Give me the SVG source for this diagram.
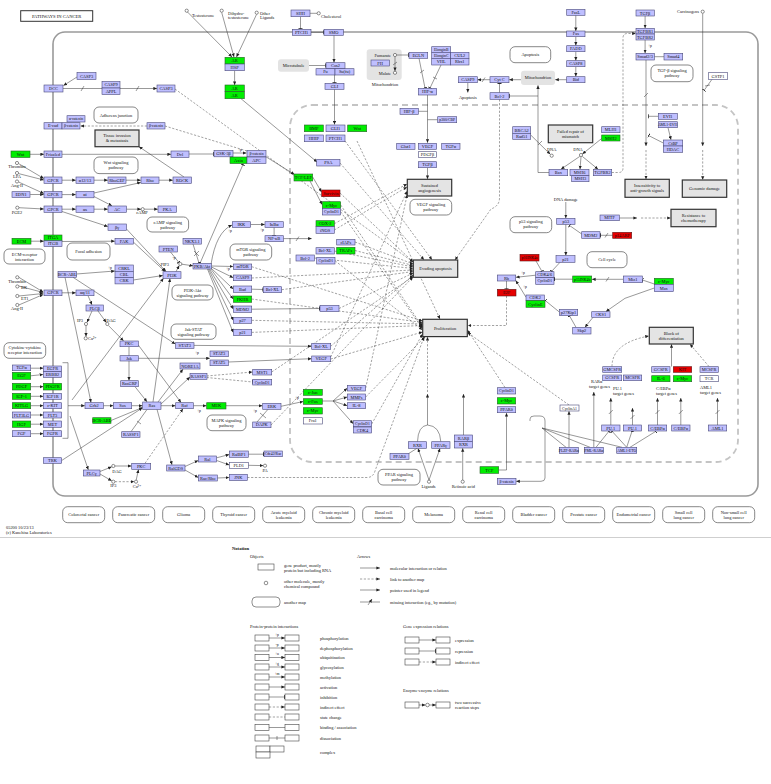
<svg xmlns="http://www.w3.org/2000/svg" width="771" height="784" viewBox="0 0 771 784">
<style>
text{font-family:"Liberation Serif","DejaVu Serif",serif;font-size:4.4px;fill:#111;text-anchor:middle}
.s{text-anchor:start}.en{text-anchor:end}.sm{font-size:3.8px}.lg{font-size:4.6px}
.g{fill:#bfbfff;stroke:#4a4a7a;stroke-width:.6}
.G{fill:#00ee00;stroke:#2a602a;stroke-width:.6}
.R{fill:#e60000;stroke:#601818;stroke-width:.6}
.W{fill:#fff;stroke:#4a4a7a;stroke-width:.6}
.m{fill:#fff;stroke:#555;stroke-width:.7}
.b{fill:#e4e4e4;stroke:#333;stroke-width:1.2}
.gy{fill:#e3e3e3;stroke:none}
.e{fill:none;stroke:#333;stroke-width:.5}
.d{fill:none;stroke:#444;stroke-width:.5;stroke-dasharray:2.2 1.6}
.c{fill:#fff;stroke:#333;stroke-width:.55}
.A{marker-end:url(#a)}.T{marker-end:url(#t)}
.lr{fill:#fff;stroke:#444;stroke-width:.6}
</style>
<defs>
<marker id="a" viewBox="0 0 6 6" refX="6" refY="3" markerWidth="3.6" markerHeight="3.6" markerUnits="userSpaceOnUse" orient="auto"><path d="M0,0.3L6,3L0,5.7z" fill="#222"/></marker>
<marker id="t" viewBox="0 0 2 8" refX="1.5" refY="4" markerWidth="1" markerHeight="4.5" markerUnits="userSpaceOnUse" orient="auto"><path d="M1,0V8" stroke="#222" stroke-width="2"/></marker>
</defs>
<rect width="771" height="784" fill="#fff"/>

<g id="containers">
<rect x="53" y="32" width="705" height="464" rx="12" fill="none" stroke="#9a9a9a" stroke-width="1.6"/>
<rect x="290" y="105" width="448" height="357" rx="22" fill="none" stroke="#c4c4c4" stroke-width="1.8" stroke-dasharray="6 4"/>
<rect x="20.7" y="10.7" width="72" height="10.6" fill="#fff" stroke="#333" stroke-width="1"/>
<text x="56.7" y="17.8" class="lg">PATHWAYS IN CANCER</text>
<rect class="gy" x="278" y="59.3" width="31" height="12.4" rx="3"/><text x="293.5" y="67">Microtubule</text>
<rect class="gy" x="366.7" y="49.3" width="35" height="30.7" rx="3"/><text x="385" y="85.8">Mitochondrion</text>
<rect class="gy" x="521" y="70.7" width="34" height="14.3" rx="3"/><text x="538" y="79.4">Mitochondrion</text>
</g>

<g id="connectors">
<path class="e A" d="M77,77L63.5,85.5"/>
<path class="e" d="M63,88.5L102,88.5M81,91L84,86"/>
<path class="e A" d="M120,88.5L157,88.5"/><path class="e" d="M136,91L139,86"/>
<path class="d" d="M247,151L165,126"/>
<path class="d A" d="M147,126L80.5,126"/>
<path class="e A" d="M184,177L139,146.7"/>
<path class="d A" d="M175,89L413,262"/>
<path class="e A" d="M30,154.3L44,154.3"/>
<path class="e A" d="M62,154.3L171,154.3"/>
<path class="e T" d="M189,154L213.5,154"/>
<path class="e A" d="M233,153L246.5,153"/>
<path class="e A" d="M266,156.8L294.5,174.5"/>
<path class="e A" d="M312.7,177L321.5,192"/>
<path class="e A" d="M310,181L322,204.5"/>
<path class="e A" d="M187.5,12L232,57"/>
<path class="e A" d="M221.7,12.5L234,57"/>
<path class="e A" d="M256.5,14.5L236.5,57"/>
<path class="e A" d="M234.6,70.7L234.6,85"/>
<path class="e A" d="M241,98.7L317,162"/>
<path class="e T" d="M300.5,16.7L300.5,29"/>
<path class="e" d="M310,13.3L317,13.3"/>
<path class="e T" d="M311,32.3L323.5,32.3"/>
<path class="e A" d="M334,35.3L334,62.5"/>
<path class="e T" d="M309,65.5L325.5,65.5"/>
<path class="e T" d="M334.5,75L334.5,83"/>
<path class="e A" d="M334.5,89.3L334.5,124.5"/>
<path class="e T" d="M396.8,55L408.5,55"/>
<path class="e A" d="M395,56.8L395,71"/><path class="e" d="M393,65L397,62"/>
<path class="e T" d="M419,58.3L425,88"/><path class="e" d="M420,73L424,70"/>
<path class="e T" d="M441,65L430,88"/><path class="e" d="M433,77L437,79"/>
<path class="e A" d="M427.5,95L427.5,142.8"/>
<path class="e" d="M418.3,111.3L427.5,111.3M437.7,119.7L427.5,119.7"/>
<path class="e A" d="M427.5,167.7L427.5,179"/>
<path class="e A" d="M575.8,15.3L575.8,31"/>
<path class="e A" d="M575.8,36.7L575.8,45.5"/>
<path class="e A" d="M575.8,51.7L575.8,60.5"/>
<path class="e A" d="M575.8,66.7L575.8,76.5"/>
<path class="e A" d="M566.7,79.7L555.2,79.7"/>
<path class="e A" d="M521,79.7L509.2,79.7"/>
<path class="e A" d="M490,79.7L477.5,79.7"/><path class="e" d="M482,82L485,77.5"/>
<path class="e A" d="M467.8,82.7L467.8,92.5"/>
<path class="e T" d="M499.5,92.7L499.5,83.3"/>
<path class="e A" d="M549,172.5L538,172.5L538,85.3"/>
<path class="e T" d="M538,96L509.5,96"/>
<path class="d A" d="M499.5,99.3L499.5,198Q499.5,206 491,209L455,260"/>
<path class="e A" d="M530.7,135L550.3,154.3"/><path class="e" d="M538,145L542,141"/>
<path class="e A" d="M601.7,138.5L582.4,154"/>
<path class="e A" d="M579.8,156.4L561,169.2"/>
<path class="e A" d="M581,156.8L580,169.2"/>
<path class="e A" d="M582.3,156.4L598,169.2"/>
<path class="d A" d="M611.7,172.5L618.5,172.5Q623,172.5 623,168L623,38Q623,33.5 627.5,33.5L635.8,33.5"/>
<path class="e A" d="M645.1,16L645.1,28.2"/>
<path class="e A" d="M645.1,40L645.1,53.2"/>
<path class="e" d="M654.3,56.7L664,56.7"/>
<path class="e A" d="M646,60L646,146"/><path class="e" d="M644,97L648,93"/>
<path class="d A" d="M646,150L646,179.2"/>
<path class="e T" d="M658.3,116.3L648.5,116.3"/>
<path class="e T" d="M663.3,143L648.5,135.5"/>
<path class="e A" d="M668,127.7L671,139.8"/>
<path class="e A" d="M702.7,13.5L702.7,146"/>
<path class="d A" d="M702.7,150L702.7,179.8"/>
<path class="e T" d="M712,79.3L704,90.5"/><path class="e" d="M705,86L710,85"/>
<path class="e A" d="M619.3,218L637,218"/>
<path class="d A" d="M641,218L670.8,218"/>
<path class="e T" d="M612.7,235.3L600.2,235.3"/><path class="e" d="M605,237.5L608,233"/>
<path class="e T" d="M581.7,234L569.5,225.5"/>
<path class="e A" d="M565.8,202L565.8,218.2"/>
<path class="e A" d="M565.8,224.3L565.8,255.5"/>
<path class="e T" d="M560,262.3L551.5,271.5"/>
<path class="e T" d="M536,261L542,271.5"/>
<path class="e A" d="M535.7,275.2L516,277.3"/>
<path class="e A" d="M526,297.2L515.8,280.5"/>
<path class="e T" d="M506.5,281L506.5,289.2"/>
<path class="d A" d="M506.5,296L506.5,325.5L467.8,325.5"/>
<path class="e T" d="M572.7,279.2L554.2,279.2"/>
<path class="e A" d="M623.3,279.3L592,279.3"/><path class="e" d="M606,281.5L609,277"/>
<path class="e T" d="M654.3,284L642.5,280"/>
<path class="e A" d="M654.3,288L625,298.3L606,311.5"/>
<path class="e A" d="M593,317.3L585,327.2"/>
<path class="e T" d="M576,327.3L569.5,315.8"/>
<path class="e T" d="M559.3,312L545.2,300.5"/>
<path class="e A" d="M176,271.7L179.2,265.6"/>
<path class="e A" d="M181.8,264.2L193,265.8"/>
<path class="e T" d="M170.5,252L178.8,262.3"/>
<path class="e T" d="M193,244.1L199,263"/><path class="e" d="M194,251L199,256M199,251L194,256"/>
<path class="e A" d="M211,264.5Q216,232 232,225"/>
<path class="e A" d="M211.5,266L233.2,266.5"/>
<path class="e A" d="M211.5,267L233.2,277.7"/>
<path class="e A" d="M211,268L233.2,289"/>
<path class="e A" d="M210.5,268.5L233.2,299"/>
<path class="e A" d="M209.5,269L233.2,309"/>
<path class="e A" d="M208.5,269L233.2,320.3"/>
<path class="e A" d="M207.5,269L233.2,332.4"/>
<path class="e A" d="M250.7,224.5L264.8,224.5"/>
<path class="e T" d="M274.1,227.4L274.1,235.5"/>
<path class="e A" d="M283.3,238.6L311.7,238.6"/><path class="e" d="M296,241L299,236.5"/>
<path class="e T" d="M251.7,289.2L263.2,289.5"/>
<path class="e T" d="M251.7,309.2L319.8,308.5"/>
<path class="e T" d="M200,263.3L243,164.5"/>
<path class="d A" d="M340,193L413.2,262"/>
<path class="d A" d="M355,242L413.2,264"/>
<path class="d A" d="M355,250.5L413.2,265.5"/>
<path class="d A" d="M334.3,251L413.2,267"/>
<path class="d A" d="M314.3,258L413.2,268.5"/>
<path class="d A" d="M251.7,278L413.2,270"/>
<path class="d A" d="M281.7,289.7L413.2,271.5"/>
<path class="d A" d="M339,308.5L413.2,273"/>
<path class="d A" d="M330.7,346.3L413.2,275"/>
<path class="d A" d="M271.7,372L413.2,276.5"/>
<path class="d A" d="M271,425L413,277"/>
<path class="d A" d="M340,163L424,259.8"/>
<path class="d A" d="M345,141L432,259.8"/>
<path class="d A" d="M251.7,266.7L422.5,321"/>
<path class="d A" d="M251.7,299L422.5,322.5"/>
<path class="d A" d="M251.7,320.3L422.5,324"/>
<path class="d A" d="M251.7,332.4L422.5,325.5"/>
<path class="d A" d="M340.7,205L422.5,327"/>
<path class="d A" d="M340.7,211.7L422.5,328.5"/>
<path class="d A" d="M335,260.7L422.5,330"/>
<path class="d A" d="M330.7,359L422.5,332"/>
<path class="d A" d="M371.7,424L422.5,334"/>
<path class="d A" d="M365.7,397L425,336.8"/>
<path class="d A" d="M357,141L440,319"/>
<path class="d A" d="M505,387.5L467.5,330"/>
<path class="d A" d="M569,405L467.5,332.5"/>
<path class="d A" d="M334.3,223.7L407,184"/>
<path class="d A" d="M334.3,230L407,187"/>
<path class="d A" d="M330.7,357L407.2,191"/>
<path class="d A" d="M365.7,388L407.2,194.5"/>
<path class="e A" d="M103.3,405.7L113.2,405.7"/>
<path class="e A" d="M131.7,405.7L142.5,405.7"/>
<path class="e A" d="M161,405.7L175.5,405.7"/>
<path class="e A" d="M193.3,405.7L206.5,405.7"/>
<path class="e A" d="M226,405.7L262.5,405.7"/>
<path class="e A" d="M281,406.3L303.2,401.5"/>
<path class="e" d="M322.3,401L333,401"/>
<path class="e A" d="M333,401L347.2,388.2"/>
<path class="e A" d="M333,401L347.2,397"/>
<path class="e A" d="M333,401L347.2,405.7"/>
<path class="e A" d="M333,401L353.2,423.7"/>
<path class="e" d="M257,422L268,409.3M260,413L266,418"/>
<path class="e A" d="M30.7,368.2L43.2,368.2"/>
<path class="e A" d="M30.7,375.8L43.2,374.5"/>
<path class="e A" d="M30.7,386.7L43.2,386.7"/>
<path class="e A" d="M30.7,396.3L43.2,396.3"/>
<path class="e A" d="M30.7,405.7L43.2,405.7"/>
<path class="e A" d="M30.7,415L43.2,415"/>
<path class="e A" d="M30.7,424.2L43.2,424.2"/>
<path class="e A" d="M30.7,433.7L43.2,433.7"/>
<path class="e" d="M62.5,362.7H68V438.3H62.5"/>
<path class="e A" d="M68,405.7L84.8,405.7"/>
<path class="e A" d="M61.7,460.5L142.5,407.8"/>
<path class="e A" d="M111,420.5L142.5,407.5"/>
<path class="e A" d="M135,386.7L147,401.8"/>
<path class="e" d="M131,431.7L147,409.5M137,421L141,424"/>
<path class="e A" d="M153,402L170,278.5"/>
<path class="e A" d="M157,409.3L172,464.8"/>
<path class="e A" d="M158,402L183,369.2"/>
<path class="e A" d="M161,404L190,377"/>
<path class="d A" d="M145,463.3L183,408.8"/>
<path class="e A" d="M100,471.5L111.7,466.8"/>
<path class="e A" d="M100,474L111.7,480.8"/>
<path class="e A" d="M115,466L131.5,466"/>
<path class="d A" d="M115,481.7L134.3,481.7"/>
<path class="e A" d="M136.2,480L138.5,469.5"/>
<path class="e A" d="M70,416L88.3,469.8"/>
<path class="e A" d="M185,466.5L198.2,460.5"/>
<path class="e A" d="M216.7,457.8L229.2,454.5"/>
<path class="e A" d="M216.7,460.5L229.2,465"/>
<path class="e T" d="M248.3,454.2L263.8,454.2"/>
<path class="e A" d="M248.3,465.3L263.3,465.6"/>
<path class="e A" d="M185,470L198.2,477.5"/>
<path class="e A" d="M217.3,478L229.2,477.5"/>
<path class="d A" d="M247.3,477.5L367,477.5Q373,477.5 375,471L424,337"/>
<path class="e A" d="M18.6,163.6L43.8,178.5"/>
<path class="e A" d="M18.6,173.6L43.8,180"/>
<path class="e A" d="M18.6,182L43.8,193.5"/>
<path class="e A" d="M30.2,194.5L43.8,194.5"/>
<path class="e A" d="M62,180.2L75.8,180.2"/>
<path class="e A" d="M94,180.2L107.8,180.2"/>
<path class="e A" d="M126,180.2L140.8,180.2"/>
<path class="e A" d="M159,180.2L172.8,180.2"/>
<path class="e A" d="M62,194.6L75.8,194.6"/>
<path class="e A" d="M94,193L140.8,182.5"/>
<path class="e A" d="M94,196.5L112,205.8"/>
<path class="e A" d="M18.8,207.7L43.8,209"/>
<path class="e A" d="M62,209.2L75.8,209.2"/>
<path class="e A" d="M94,209.2L107.8,209.2"/>
<path class="e A" d="M126.5,209.2L141,209.2"/>
<path class="e A" d="M144.4,209.2L157.8,209.2"/>
<path class="e A" d="M62,211.5L107.8,226.5"/>
<path class="e A" d="M126.5,229L166,271.5"/>
<path class="e A" d="M30.7,241.2L43.8,241.2"/>
<path class="e A" d="M62,241.5L114.8,241.2"/>
<path class="e A" d="M133.3,242L165,271.5"/>
<path class="e A" d="M76.5,274L114.8,271"/>
<path class="e A" d="M133.3,280L162.8,275.5"/>
<path class="e A" d="M18.8,277.3L43.2,292"/>
<path class="e A" d="M18.8,286L43.2,292.5"/>
<path class="e A" d="M18.8,296L43.2,293.5"/>
<path class="e A" d="M18.8,305L43.2,294.5"/>
<path class="e A" d="M61.7,292.8L75.8,292.8"/>
<path class="e A" d="M88,295.7L92,304.8"/>
<path class="e A" d="M92,311L87,322.3"/>
<path class="e A" d="M98,311L106.2,322.4"/>
<path class="e A" d="M86,325.6L86,336.6"/>
<path class="e A" d="M108.5,325.6L123.5,340.8"/>
<path class="e A" d="M65,277.3L91,402.5"/>
<path class="e A" d="M73,277.3L175.3,344"/>
<path class="e A" d="M129,346.7L129,380.5"/>
<path class="e A" d="M138.3,345L181,402.5"/>
<path class="e A" d="M138.3,358.3L209.8,358.3"/>
<path class="e A" d="M194,345.4L311.5,346.3"/>
<path class="e A" d="M228.3,362L311.5,358.7"/>
<path class="d A" d="M206.7,376L252.5,372"/>
<path class="d T" d="M206.7,377.5L252.5,382"/>
<path class="e A" d="M72,400L163.5,278.3"/>
<path class="d A" d="M612,366.5Q612,343 648.8,336"/>
<path class="e A" d="M671.5,366.5L671.5,344.2"/>
<path class="d A" d="M709,366.5L690,344.2"/>
<path class="e A" d="M610.8,425L610.8,398"/>
<path class="e A" d="M632.5,425L632.5,408"/>
<path class="e A" d="M657.5,425L657.5,398"/>
<path class="e A" d="M680.8,425L680.8,398"/>
<path class="e A" d="M717.5,425L717.5,398"/>
<path class="e" d="M608.8,414L612.8,410M630.5,419L634.5,415M655.5,414L659.5,410M678.8,414L682.8,410M715.5,414L719.5,410"/>
<path class="e T" d="M626.7,447.3L612,431.2"/>
<path class="e T" d="M626.7,447.3L632,431.2"/>
<path class="e T" d="M630,447.3L656,431.2"/>
<path class="e T" d="M596,447.3L609,431.2"/>
<path class="e A" d="M569,447.3L569,411.2"/>
<path class="e A" d="M593.8,447.3L593.8,392"/>
<path class="e" d="M542,428L566,447.3M542,428L590,447.3M542,428L622,447.3"/>
<path class="e A" d="M530,421L530,419Q530,416 534,416L540,416Q545,416 545,421L545,478Q545,481.3 541,481.3L516.2,481.3"/>
<path class="e A" d="M499,470L506.5,470L506.5,413"/>
<path class="e A" d="M429,480L418,448.5"/>
<path class="e A" d="M429,480L440,448.5"/>
<path class="e A" d="M462.7,480L462.7,448.2"/>
<path class="e" d="M417.5,441.7Q418,426 427.5,425M440.8,441.7Q440,426 427.5,425"/>
<path class="e A" d="M427.5,425L427.5,394"/>
<path class="d A" d="M427.5,392L427.5,337"/>
<path class="e A" d="M463.5,435L463.5,394"/>
<path class="e" d="M409,453.3L417,448.3"/>
</g>

<g id="labels">
<text x="240" y="150.5" class="sm">+p</text>
<text x="199" y="412" class="sm">+p</text>
<text x="255" y="412" class="sm">+p</text>
<text x="297" y="398.5" class="sm">+p</text>
<text x="228" y="270" class="sm">+p</text>
<text x="230" y="232" class="sm">+p</text>
<text x="262" y="231" class="sm">+p</text>
<text x="650" y="47" class="sm">+p</text>
<text x="523" y="273.5" class="sm">+p</text>
<text x="525" y="288" class="sm">+p</text>
<text x="197" y="354" class="sm">+p</text>
<text x="110" y="268.5" class="sm">+p</text>
<text x="174" y="259" class="sm">-p</text>
<text x="192" y="16.5" class="s">Testosterone</text>
<text x="228" y="14.5" class="s">Dihydro-</text><text x="228" y="19" class="s">testosterone</text>
<text x="260" y="14.5" class="s">Other</text><text x="260" y="19" class="s">Ligands</text>
<text x="321" y="17.5" class="s">Cholesterol</text>
<text x="391" y="56.5" class="en">Fumarate</text>
<text x="391" y="75" class="en">Malate</text>
<text x="467.8" y="98.8">Apoptosis</text>
<text x="551.7" y="151">DNA</text><text x="578" y="151">DNA</text>
<text x="565.8" y="200.5">DNA damage</text>
<text x="699" y="13" class="en">Carcinogens</text>
<text x="17" y="168">Thrombin</text><text x="17" y="178">LPA</text><text x="17" y="186.5">Ang-II</text>
<text x="17" y="214">PGE2</text>
<text x="17" y="282.5">Thrombin</text><text x="21" y="289" class="s">BK</text><text x="21" y="299.5" class="s">ET1</text><text x="17" y="310">Ang-II</text>
<text x="80" y="322">IP3</text><text x="111" y="321.5">DAG</text><text x="88" y="339.8" class="s">Ca²⁺</text>
<text x="142" y="214">cAMP</text>
<text x="169" y="265.8" class="en">PIP3</text>
<text x="117" y="472.5">DAG</text><text x="113.3" y="487.3">IP3</text><text x="137" y="488">Ca²⁺</text>
<text x="265" y="471.5">PA</text>
<text x="428.5" y="488">Ligands</text><text x="463.3" y="488">Retinoic acid</text>
<text x="591" y="383" class="s">RARα</text><text x="589" y="387.5" class="s">target genes</text>
<text x="613" y="390" class="s">PU.1</text><text x="613" y="394.5" class="s">target genes</text>
<text x="656" y="390" class="s">C/EBPα</text><text x="656" y="394.5" class="s">target genes</text>
<text x="700" y="389" class="s">AML1</text><text x="700" y="393.5" class="s">target genes</text>
<text x="6" y="529" class="s">05200 10/23/13</text>
<text x="6" y="534" class="s">(c) Kanehisa Laboratories</text>
</g>

<g id="small-molecules">
<circle class="c" cx="186.7" cy="10.7" r="1.6"/><circle class="c" cx="221.7" cy="10.7" r="1.6"/><circle class="c" cx="256.7" cy="12.7" r="1.6"/>
<circle class="c" cx="318.7" cy="13.3" r="1.6"/><circle class="c" cx="395" cy="55" r="1.6"/><circle class="c" cx="395" cy="72.8" r="1.6"/>
<circle class="c" cx="17" cy="163" r="1.6"/><circle class="c" cx="17" cy="173" r="1.6"/><circle class="c" cx="17" cy="181.5" r="1.6"/>
<circle class="c" cx="17.3" cy="207.7" r="1.6"/>
<circle class="c" cx="17.3" cy="277.3" r="1.6"/><circle class="c" cx="17.3" cy="286.5" r="1.6"/><circle class="c" cx="17.3" cy="296" r="1.6"/><circle class="c" cx="17.3" cy="305" r="1.6"/>
<circle class="c" cx="86" cy="324" r="1.6"/><circle class="c" cx="107.3" cy="324" r="1.6"/><circle class="c" cx="85.7" cy="338.3" r="1.6"/>
<circle class="c" cx="142.7" cy="209.2" r="1.6"/><circle class="c" cx="180.3" cy="264" r="1.6"/>
<circle class="c" cx="113.3" cy="466" r="1.6"/><circle class="c" cx="113.3" cy="481.7" r="1.6"/><circle class="c" cx="136" cy="481.7" r="1.6"/>
<circle class="c" cx="265" cy="465.7" r="1.6"/><circle class="c" cx="429" cy="481.7" r="1.6"/><circle class="c" cx="462.7" cy="481.7" r="1.6"/>
<circle class="c" cx="551.7" cy="155.7" r="1.6"/><circle class="c" cx="581" cy="155" r="1.6"/><circle class="c" cx="702.7" cy="11.7" r="1.6"/>
</g>

<g id="phenotypes">
<g id="p-tissue"><rect class="b" x="95" y="130" width="44" height="16.7"/><text x="117" y="137">Tissue invasion</text><text x="117" y="142">&amp; metastasis</text></g>
<g id="p-angio"><rect class="b" x="407.3" y="179.3" width="44.4" height="16.7"/><text x="429.5" y="186.5">Sustained</text><text x="429.5" y="191.5">angiogenesis</text></g>
<g id="p-apop"><rect class="b" x="413.3" y="260" width="44.4" height="17.3"/><text x="435.5" y="270.2">Evading apoptosis</text></g>
<g id="p-prolif"><rect class="b" x="422.7" y="319.3" width="44.6" height="17.3"/><text x="445" y="329.5">Proliferation</text></g>
<g id="p-repair"><rect class="b" x="548.3" y="125" width="44.4" height="17.7"/><text x="570.5" y="132.5">Failed repair of</text><text x="570.5" y="137.5">mismatch</text></g>
<g id="p-insens"><rect class="b" x="625" y="179.3" width="44.3" height="18"/><text x="647.1" y="186.8">Insensitivity to</text><text x="647.1" y="191.8">anti-growth signals</text></g>
<g id="p-genomic"><rect class="b" x="682.3" y="180" width="44.4" height="17.3"/><text x="704.5" y="190.2">Genomic damage</text></g>
<g id="p-resist"><rect class="b" x="671" y="209.3" width="45" height="17.4"/><text x="693.5" y="216.8">Resistance to</text><text x="693.5" y="221.8">chemotherapy</text></g>
<g id="p-block"><rect class="b" x="649.3" y="327.3" width="44" height="16.7"/><text x="671.3" y="334.5">Block of</text><text x="671.3" y="339.5">differentiation</text></g>
</g>

<g id="maps">
<g id="m-adherens"><rect class="m" x="94" y="107" width="44" height="16" rx="5"/><text x="116" y="116.5">Adherens junction</text></g>
<g id="m-wnt"><rect class="m" x="94" y="157" width="44" height="16.6" rx="5"/><text x="116" y="164">Wnt signaling</text><text x="116" y="169">pathway</text></g>
<g id="m-camp"><rect class="m" x="147" y="217" width="41.6" height="15" rx="5"/><text x="167.8" y="223.5">cAMP signaling</text><text x="167.8" y="228.5">pathway</text></g>
<g id="m-ecm"><rect class="m" x="4" y="249" width="41" height="15" rx="5"/><text x="24.5" y="255.5">ECM-receptor</text><text x="24.5" y="260.5">interaction</text></g>
<g id="m-focal"><rect class="m" x="67" y="243" width="43" height="17" rx="5"/><text x="88.5" y="252.8">Focal adhesion</text></g>
<g id="m-pi3k"><rect class="m" x="172" y="285" width="41" height="15" rx="5"/><text x="192.5" y="291.5">PI3K-Akt</text><text x="192.5" y="296.5">signaling pathway</text></g>
<g id="m-jak"><rect class="m" x="171" y="324" width="45" height="15.3" rx="5"/><text x="193.5" y="330.5">Jak-STAT</text><text x="193.5" y="335.5">signaling pathway</text></g>
<g id="m-cytokine"><rect class="m" x="4" y="342.7" width="41.7" height="15.6" rx="5"/><text x="24.8" y="349">Cytokine-cytokine</text><text x="24.8" y="354">receptor interaction</text></g>
<g id="m-mtor"><rect class="m" x="230" y="244" width="41.7" height="16" rx="5"/><text x="250.8" y="250.5">mTOR signaling</text><text x="250.8" y="255.5">pathway</text></g>
<g id="m-mapk"><rect class="m" x="207" y="415" width="39" height="15.7" rx="5"/><text x="226.5" y="421.5">MAPK signaling</text><text x="226.5" y="426.5">pathway</text></g>
<g id="m-tgfb"><rect class="m" x="651" y="65" width="42" height="16.7" rx="5"/><text x="672" y="72">TGF-β signaling</text><text x="672" y="77">pathway</text></g>
<g id="m-apoptosis"><rect class="m" x="510" y="46.7" width="40.7" height="16" rx="5"/><text x="530.3" y="56.2">Apoptosis</text></g>
<g id="m-vegf"><rect class="m" x="410" y="199.3" width="41.7" height="15.7" rx="5"/><text x="430.8" y="206">VEGF signaling</text><text x="430.8" y="211">pathway</text></g>
<g id="m-p53"><rect class="m" x="510" y="216.7" width="41.7" height="16" rx="5"/><text x="530.8" y="223">p53 signaling</text><text x="530.8" y="228">pathway</text></g>
<g id="m-cellcycle"><rect class="m" x="587" y="251.7" width="40" height="16" rx="5"/><text x="607" y="261.2">Cell cycle</text></g>
<g id="m-ppar"><rect class="m" x="378" y="469.3" width="42" height="15.7" rx="5"/><text x="399" y="476">PPAR signaling</text><text x="399" y="481">pathway</text></g>
<g id="m-d1"><rect class="m" x="62.7" y="506.7" width="42" height="16" rx="5"/><text x="83.7" y="516.2">Colorectal cancer</text></g>
<g id="m-d2"><rect class="m" x="112.7" y="506.7" width="42" height="16" rx="5"/><text x="133.7" y="516.2">Pancreatic cancer</text></g>
<g id="m-d3"><rect class="m" x="162.7" y="506.7" width="42" height="16" rx="5"/><text x="183.7" y="516.2">Glioma</text></g>
<g id="m-d4"><rect class="m" x="212.7" y="506.7" width="42" height="16" rx="5"/><text x="233.7" y="516.2">Thyroid cancer</text></g>
<g id="m-d5"><rect class="m" x="262.7" y="506.7" width="42" height="16" rx="5"/><text x="283.7" y="513.5">Acute myeloid</text><text x="283.7" y="518.5">leukemia</text></g>
<g id="m-d6"><rect class="m" x="312.7" y="506.7" width="42" height="16" rx="5"/><text x="333.7" y="513.5">Chronic myeloid</text><text x="333.7" y="518.5">leukemia</text></g>
<g id="m-d7"><rect class="m" x="362.7" y="506.7" width="42" height="16" rx="5"/><text x="383.7" y="513.5">Basal cell</text><text x="383.7" y="518.5">carcinoma</text></g>
<g id="m-d8"><rect class="m" x="412.7" y="506.7" width="42" height="16" rx="5"/><text x="433.7" y="516.2">Melanoma</text></g>
<g id="m-d9"><rect class="m" x="462.7" y="506.7" width="42" height="16" rx="5"/><text x="483.7" y="513.5">Renal cell</text><text x="483.7" y="518.5">carcinoma</text></g>
<g id="m-d10"><rect class="m" x="512.7" y="506.7" width="42" height="16" rx="5"/><text x="533.7" y="516.2">Bladder cancer</text></g>
<g id="m-d11"><rect class="m" x="562.7" y="506.7" width="42" height="16" rx="5"/><text x="583.7" y="516.2">Prostate cancer</text></g>
<g id="m-d12"><rect class="m" x="612.7" y="506.7" width="42" height="16" rx="5"/><text x="633.7" y="516.2">Endometrial cancer</text></g>
<g id="m-d13"><rect class="m" x="662.7" y="506.7" width="42" height="16" rx="5"/><text x="683.7" y="513.5">Small cell</text><text x="683.7" y="518.5">lung cancer</text></g>
<g id="m-d14"><rect class="m" x="712.7" y="506.7" width="42" height="16" rx="5"/><text x="733.7" y="513.5">Non-small cell</text><text x="733.7" y="518.5">lung cancer</text></g>
</g>

<g id="genes">
<g id="n-dcc"><rect class="g" x="44" y="85" width="19" height="7"/><text x="53.5" y="90">DCC</text></g>
<g id="n-casp3a"><rect class="g" x="77" y="72.5" width="19" height="7"/><text x="86.5" y="77.5">CASP3</text></g>
<g id="n-casp9a"><rect class="g" x="102" y="81.5" width="18" height="6.5"/><text x="111" y="86.2">CASP9</text></g>
<g id="n-appl"><rect class="g" x="102" y="88" width="18" height="6.5"/><text x="111" y="92.7">APPL</text></g>
<g id="n-acat"><rect class="g" x="67" y="115.7" width="18" height="6.3"/><text x="76" y="120.3" class="sm">α-catenin</text></g>
<g id="n-ecad"><rect class="g" x="44" y="122.7" width="18" height="6.3"/><text x="53" y="127.3">E-cad</text></g>
<g id="n-bcat1"><rect class="g" x="62" y="122.7" width="18" height="6.3"/><text x="71" y="127.3" class="sm">β-catenin</text></g>
<g id="n-bcat2"><rect class="g" x="147" y="122.7" width="18" height="6.3"/><text x="156" y="127.3" class="sm">β-catenin</text></g>
<g id="n-casp3b"><rect class="g" x="157" y="85" width="18" height="7"/><text x="166" y="90">CASP3</text></g>
<g id="n-wnt"><rect class="G" x="11" y="151" width="19" height="6.5"/><text x="20.5" y="155.7">Wnt</text></g>
<g id="n-fzd"><rect class="g" x="44" y="151" width="18" height="6.5"/><text x="53" y="155.7">Frizzled</text></g>
<g id="n-dvl"><rect class="g" x="171" y="151" width="18" height="6.5"/><text x="180" y="155.7">Dvl</text></g>
<g id="n-gsk"><rect class="g" x="214" y="150.5" width="19" height="6.3"/><text x="223.5" y="155.1">GSK-3β</text></g>
<g id="n-bcat3"><rect class="g" x="247" y="150.5" width="19" height="6.3"/><text x="256.5" y="155.1" class="sm">β-catenin</text></g>
<g id="n-axin"><rect class="G" x="230" y="157" width="17" height="6.5"/><text x="238.5" y="161.7">Axin</text></g>
<g id="n-apc"><rect class="g" x="247" y="157" width="19" height="6.5"/><text x="256.5" y="161.7">APC</text></g>
<g id="n-gpcr1"><rect class="g" x="44" y="177" width="18" height="6.3"/><text x="53" y="181.6">GPCR</text></g>
<g id="n-ga12"><rect class="g" x="76" y="177" width="18" height="6.3"/><text x="85" y="181.6">α12/13</text></g>
<g id="n-rhogef"><rect class="g" x="108" y="177" width="18" height="6.3"/><text x="117" y="181.6">RhoGEF</text></g>
<g id="n-rho"><rect class="g" x="141" y="177" width="18" height="6.3"/><text x="150" y="181.6">Rho</text></g>
<g id="n-rock"><rect class="g" x="173" y="177" width="18.5" height="6.3"/><text x="182.2" y="181.6">ROCK</text></g>
<g id="n-edn1"><rect class="g" x="12" y="191.7" width="18" height="5.7"/><text x="21" y="196">EDN1</text></g>
<g id="n-gpcr2"><rect class="g" x="44" y="191.5" width="18" height="6.3"/><text x="53" y="196.1">GPCR</text></g>
<g id="n-gai"><rect class="g" x="76" y="191.5" width="18" height="6.3"/><text x="85" y="196.1">αi</text></g>
<g id="n-gpcr3"><rect class="g" x="44" y="206" width="18" height="6.3"/><text x="53" y="210.6">GPCR</text></g>
<g id="n-gas"><rect class="g" x="76" y="206" width="18" height="6.3"/><text x="85" y="210.6">αs</text></g>
<g id="n-ac"><rect class="g" x="108" y="206" width="18.5" height="6.3"/><text x="117.2" y="210.6">AC</text></g>
<g id="n-pka"><rect class="g" x="158" y="206" width="18.5" height="6.3"/><text x="167.2" y="210.6">PKA</text></g>
<g id="n-gbg"><rect class="g" x="108" y="224" width="18.5" height="6.3"/><text x="117.2" y="228.6">βγ</text></g>
<g id="n-ecm"><rect class="G" x="12" y="238.3" width="19" height="5.8"/><text x="21.5" y="242.7">ECM</text></g>
<g id="n-itga"><rect class="G" x="44" y="235" width="18" height="5.8"/><text x="53" y="239.4">ITGA</text></g>
<g id="n-itgb"><rect class="g" x="44" y="240.8" width="18" height="5.8"/><text x="53" y="245.2">ITGB</text></g>
<g id="n-fak"><rect class="g" x="115" y="238.3" width="18.3" height="5.8"/><text x="124.1" y="242.7">FAK</text></g>
<g id="n-pten"><rect class="g" x="159" y="246" width="18.5" height="6"/><text x="168.2" y="250.5">PTEN</text></g>
<g id="n-nkx"><rect class="g" x="183" y="238.3" width="18.5" height="5.8"/><text x="192.2" y="242.7">NKX3.1</text></g>
<g id="n-bcrabl1"><rect class="g" x="58" y="271.5" width="18.5" height="5.8"/><text x="67.2" y="275.9">BCR-ABL</text></g>
<g id="n-crkl"><rect class="g" x="115" y="265" width="18.3" height="6.3"/><text x="124.1" y="269.6">CRKL</text></g>
<g id="n-cbl"><rect class="g" x="115" y="271.3" width="18.3" height="6.3"/><text x="124.1" y="275.9">CBL</text></g>
<g id="n-crk"><rect class="g" x="115" y="277.6" width="18.3" height="6.3"/><text x="124.1" y="282.2">CRK</text></g>
<g id="n-pi3k"><rect class="g" x="163" y="271.7" width="18" height="6.6"/><text x="172" y="276.5">PI3K</text></g>
<g id="n-akt"><rect class="g" x="193" y="263.3" width="18.3" height="5.7"/><text x="202.1" y="267.6">PKB/Akt</text></g>
<g id="n-gpcr4"><rect class="g" x="44" y="290" width="18" height="5.7"/><text x="53" y="294.3">GPCR</text></g>
<g id="n-gaq"><rect class="g" x="76" y="290" width="18" height="5.7"/><text x="85" y="294.3">αq/11</text></g>
<g id="n-plcb"><rect class="g" x="86" y="305" width="17.3" height="6"/><text x="94.6" y="309.5">PLCβ</text></g>
<g id="n-pkc1"><rect class="g" x="120" y="341" width="18.3" height="5.7"/><text x="129.1" y="345.3">PKC</text></g>
<g id="n-stat3a"><rect class="g" x="175.5" y="342.7" width="18.5" height="5.7"/><text x="184.7" y="347">STAT3</text></g>
<g id="n-jak"><rect class="g" x="120" y="355.7" width="18.3" height="5.3"/><text x="129.1" y="359.8">Jak</text></g>
<g id="n-ikk"><rect class="g" x="232.3" y="221.7" width="18.3" height="5.7"/><text x="241.4" y="226">IKK</text></g>
<g id="n-ikba"><rect class="g" x="265" y="221.7" width="18.3" height="5.7"/><text x="274.1" y="226">IκBα</text></g>
<g id="n-nfkb"><rect class="g" x="265" y="235.7" width="18.3" height="6"/><text x="274.1" y="240.2">NF-κB</text></g>
<g id="n-mtor"><rect class="g" x="233.3" y="264" width="18.4" height="5.5"/><text x="242.5" y="268.2">mTOR</text></g>
<g id="n-casp9b"><rect class="g" x="233.3" y="275" width="18.4" height="5.7"/><text x="242.5" y="279.3">CASP9</text></g>
<g id="n-bad"><rect class="g" x="233.3" y="286" width="18.4" height="6.3"/><text x="242.5" y="290.6">Bad</text></g>
<g id="n-bclxl1"><rect class="g" x="263.3" y="286.7" width="18.4" height="6"/><text x="272.5" y="291.2">Bcl-XL</text></g>
<g id="n-fkhr"><rect class="G" x="233.3" y="296" width="18.4" height="6.3"/><text x="242.5" y="300.6">FKHR</text></g>
<g id="n-mdm2a"><rect class="g" x="233.3" y="306" width="18.4" height="6.3"/><text x="242.5" y="310.6">MDM2</text></g>
<g id="n-p27"><rect class="g" x="233.3" y="317.3" width="18.4" height="6"/><text x="242.5" y="321.8">p27</text></g>
<g id="n-p21a"><rect class="g" x="233.3" y="329.3" width="18.4" height="6.3"/><text x="242.5" y="333.9">p21</text></g>
<g id="n-tgfa"><rect class="g" x="12.3" y="365" width="18.4" height="5.7"/><text x="21.5" y="369.3">TGFα</text></g>
<g id="n-egf"><rect class="G" x="12.3" y="372.3" width="18.4" height="7"/><text x="21.5" y="377.3">EGF</text></g>
<g id="n-egfr"><rect class="g" x="43.3" y="366" width="18.4" height="5.7"/><text x="52.5" y="370.3">EGFR</text></g>
<g id="n-erbb2"><rect class="g" x="43.3" y="371.7" width="18.4" height="5.7"/><text x="52.5" y="376">ERBB2</text></g>
<g id="n-pdgf"><rect class="G" x="12.3" y="383.3" width="18.4" height="6.7"/><text x="21.5" y="388.2">PDGF</text></g>
<g id="n-pdgfr"><rect class="G" x="43.3" y="383.3" width="18.4" height="6.7"/><text x="52.5" y="388.2">PDGFR</text></g>
<g id="n-igf"><rect class="G" x="12.3" y="393.3" width="18.4" height="6"/><text x="21.5" y="397.8">IGF-1</text></g>
<g id="n-igf1r"><rect class="g" x="43.3" y="393.3" width="18.4" height="6"/><text x="52.5" y="397.8">IGF1R</text></g>
<g id="n-kitlg"><rect class="G" x="12.3" y="402.7" width="18.4" height="6"/><text x="21.5" y="407.2">KITLG</text></g>
<g id="n-ckit"><rect class="g" x="43.3" y="402.7" width="18.4" height="6"/><text x="52.5" y="407.2">c-KIT</text></g>
<g id="n-flt3lg"><rect class="g" x="12.3" y="412" width="18.4" height="6"/><text x="21.5" y="416.5">FLT3LG</text></g>
<g id="n-flt3"><rect class="g" x="43.3" y="412" width="18.4" height="6"/><text x="52.5" y="416.5">FLT3</text></g>
<g id="n-hgf"><rect class="G" x="12.3" y="421" width="18.4" height="6.3"/><text x="21.5" y="425.6">HGF</text></g>
<g id="n-met"><rect class="g" x="43.3" y="421" width="18.4" height="6.3"/><text x="52.5" y="425.6">MET</text></g>
<g id="n-fgf"><rect class="g" x="12.3" y="430.7" width="18.4" height="6"/><text x="21.5" y="435.2">FGF</text></g>
<g id="n-fgfr"><rect class="g" x="43.3" y="430.7" width="18.4" height="6"/><text x="52.5" y="435.2">FGFR</text></g>
<g id="n-grb2"><rect class="g" x="85" y="402.7" width="18.3" height="6"/><text x="94.1" y="407.2">Grb2</text></g>
<g id="n-sos"><rect class="g" x="113.3" y="402.7" width="18.4" height="6"/><text x="122.5" y="407.2">Sos</text></g>
<g id="n-ras"><rect class="g" x="142.7" y="402" width="18.3" height="7.3"/><text x="151.8" y="407.1">Ras</text></g>
<g id="n-raf"><rect class="g" x="175.7" y="402.7" width="17.6" height="6"/><text x="184.5" y="407.2">Raf</text></g>
<g id="n-rasgrp"><rect class="g" x="120.7" y="380.7" width="17.6" height="6"/><text x="129.5" y="385.2">RasGRP</text></g>
<g id="n-bcrabl2"><rect class="G" x="92.7" y="417.7" width="18.3" height="5.6"/><text x="101.8" y="422">BCR-ABL</text></g>
<g id="n-rassf1b"><rect class="g" x="121.7" y="431.7" width="18.3" height="5.6"/><text x="130.8" y="436">RASSF1</text></g>
<g id="n-trk"><rect class="g" x="43.3" y="457.7" width="18.4" height="5.6"/><text x="52.5" y="462">TRK</text></g>
<g id="n-plcg"><rect class="g" x="83.3" y="470" width="16.7" height="6"/><text x="91.6" y="474.5">PLCγ</text></g>
<g id="n-pkc2"><rect class="g" x="131.7" y="463.3" width="19" height="6"/><text x="141.2" y="467.8">PKC</text></g>
<g id="n-ralgds"><rect class="g" x="166.7" y="465" width="18.3" height="6"/><text x="175.8" y="469.5">RalGDS</text></g>
<g id="n-nore1a"><rect class="g" x="180" y="363" width="20" height="6"/><text x="190" y="367.5">NORE1A</text></g>
<g id="n-rassf1"><rect class="g" x="190" y="373.3" width="17" height="6"/><text x="198.5" y="377.8">RASSF1</text></g>
<g id="n-stat5a"><rect class="g" x="210" y="351" width="18.3" height="5.7"/><text x="219.1" y="355.3">STAT3</text></g>
<g id="n-stat5b"><rect class="g" x="210" y="360" width="18.3" height="5.7"/><text x="219.1" y="364.3">STAT5</text></g>
<g id="n-mst1"><rect class="g" x="252.7" y="369.3" width="19" height="5.7"/><text x="262.2" y="373.6">MST1</text></g>
<g id="n-ccnd1a"><rect class="g" x="252.7" y="379.3" width="19" height="5.7"/><text x="262.2" y="383.6" class="sm">CyclinD1</text></g>
<g id="n-mek"><rect class="G" x="206.7" y="402.7" width="19.3" height="6.3"/><text x="216.3" y="407.3">MEK</text></g>
<g id="n-erk"><rect class="g" x="262.7" y="403.3" width="18.3" height="6"/><text x="271.8" y="407.8">ERK</text></g>
<g id="n-dapk"><rect class="g" x="252.7" y="422" width="18.3" height="5.7"/><text x="261.8" y="426.3">DAPK</text></g>
<g id="n-ral"><rect class="g" x="198.3" y="456" width="18.3" height="6"/><text x="207.4" y="460.5">Ral</text></g>
<g id="n-ralbp1"><rect class="g" x="229.3" y="451" width="19" height="6.3"/><text x="238.8" y="455.6">RalBP1</text></g>
<g id="n-cdc42"><rect class="g" x="264" y="451" width="18.3" height="5.7"/><text x="273.1" y="455.3" class="sm">Cdc42/Rac</text></g>
<g id="n-pld1"><rect class="W" x="229.3" y="462.3" width="19" height="6"/><text x="238.8" y="466.8">PLD1</text></g>
<g id="n-racrho"><rect class="g" x="198.3" y="475" width="19" height="6"/><text x="207.8" y="479.5">Rac/Rho</text></g>
<g id="n-jnk"><rect class="g" x="229.3" y="474.3" width="18" height="6.3"/><text x="238.3" y="478.9">JNK</text></g>
<g id="n-bclxl2"><rect class="g" x="311.7" y="343.3" width="19" height="6"/><text x="321.2" y="347.8">Bcl-XL</text></g>
<g id="n-vegf1"><rect class="g" x="311.7" y="356" width="19" height="5.7"/><text x="321.2" y="360.3">VEGF</text></g>
<g id="n-cjun"><rect class="G" x="303.3" y="389.3" width="19" height="6"/><text x="312.8" y="393.8">c-Jun</text></g>
<g id="n-cfos"><rect class="G" x="303.3" y="398.7" width="19" height="5.6"/><text x="312.8" y="403">c-Fos</text></g>
<g id="n-cmyc1"><rect class="G" x="303.3" y="407.7" width="19" height="6.3"/><text x="312.8" y="412.3">c-Myc</text></g>
<g id="n-fra1"><rect class="W" x="303.3" y="417.7" width="19" height="6.3"/><text x="312.8" y="422.3">Fra1</text></g>
<g id="n-vegf2"><rect class="g" x="347.3" y="385.3" width="18.4" height="5.7"/><text x="356.5" y="389.6">VEGF</text></g>
<g id="n-mmps"><rect class="g" x="347.3" y="394" width="18.4" height="6"/><text x="356.5" y="398.5">MMPs</text></g>
<g id="n-il8"><rect class="g" x="347.3" y="402.7" width="18.4" height="6"/><text x="356.5" y="407.2">IL-8</text></g>
<g id="n-ccnd1b"><rect class="g" x="353.3" y="420.7" width="18.4" height="6"/><text x="362.5" y="425.2" class="sm">CyclinD1</text></g>
<g id="n-cdk4"><rect class="g" x="353.3" y="427" width="18.4" height="6"/><text x="362.5" y="431.5">CDK4</text></g>
<g id="n-ppard1"><rect class="g" x="390" y="453.3" width="19" height="6"/><text x="399.5" y="457.8">PPARδ</text></g>
<g id="n-rxr1"><rect class="g" x="408.3" y="441.7" width="18.4" height="6.6"/><text x="417.5" y="446.5">RXR</text></g>
<g id="n-pparg"><rect class="g" x="431.7" y="441.7" width="18.3" height="6.6"/><text x="440.8" y="446.5">PPARγ</text></g>
<g id="n-rarb"><rect class="g" x="454.3" y="435" width="18.4" height="6.4"/><text x="463.5" y="439.7">RARβ</text></g>
<g id="n-rxr2"><rect class="g" x="454.3" y="441.4" width="18.4" height="6.6"/><text x="463.5" y="446.2">RXR</text></g>
<g id="n-ccnd1c"><rect class="g" x="497.3" y="387.7" width="18.4" height="6.3"/><text x="506.5" y="392.3" class="sm">CyclinD1</text></g>
<g id="n-cmyc2"><rect class="G" x="497.3" y="397.7" width="18.4" height="6.3"/><text x="506.5" y="402.3">c-Myc</text></g>
<g id="n-ppard2"><rect class="g" x="497.3" y="406.7" width="18.4" height="6"/><text x="506.5" y="411.2">PPARδ</text></g>
<g id="n-tcf"><rect class="G" x="480" y="466.7" width="18.7" height="6.6"/><text x="489.3" y="471.5">TCF</text></g>
<g id="n-bcat4"><rect class="g" x="497.3" y="478.3" width="18.7" height="6"/><text x="506.6" y="482.8" class="sm">β-catenin</text></g>
<g id="n-ccna1"><rect class="W" x="560" y="405" width="19" height="6"/><text x="569.5" y="409.5" class="sm">CyclinA1</text></g>
<g id="n-plzf"><rect class="g" x="559.3" y="447.3" width="19" height="6"/><text x="568.8" y="451.6" class="sm">PLZF-RARα</text></g>
<g id="n-pml"><rect class="g" x="584.3" y="447.3" width="19" height="6"/><text x="593.8" y="451.6" class="sm">PML-RARα</text></g>
<g id="n-amleto"><rect class="g" x="616.7" y="447.3" width="20" height="6"/><text x="626.7" y="451.6" class="sm">AML1-ETO</text></g>
<g id="n-pu1a"><rect class="g" x="601.7" y="425" width="18.3" height="6"/><text x="610.8" y="429.5">PU.1</text></g>
<g id="n-pu1b"><rect class="g" x="623.3" y="425" width="18.3" height="6"/><text x="632.5" y="429.5">PU.1</text></g>
<g id="n-cebpa1"><rect class="g" x="648.3" y="425" width="18.4" height="6"/><text x="657.5" y="429.5">C/EBPα</text></g>
<g id="n-cebpa2"><rect class="g" x="671.7" y="425" width="18.3" height="6"/><text x="680.8" y="429.5">C/EBPα</text></g>
<g id="n-aml1"><rect class="g" x="708.3" y="425" width="18.4" height="6"/><text x="717.5" y="429.5">AML1</text></g>
<g id="n-gmcsfr"><rect class="g" x="602.7" y="366.7" width="19" height="5.6"/><text x="612.2" y="371">GMCSFR</text></g>
<g id="n-gcsfr1"><rect class="g" x="602.7" y="375" width="19" height="5.7"/><text x="612.2" y="379.3">GCSFR</text></g>
<g id="n-mcsfr1"><rect class="g" x="623.3" y="375" width="18.4" height="5.7"/><text x="632.5" y="379.3">MCSFR</text></g>
<g id="n-gcsfr2"><rect class="g" x="651.7" y="366.7" width="18.3" height="5.6"/><text x="660.8" y="371">GCSFR</text></g>
<g id="n-kit"><rect class="R" x="673.3" y="366.7" width="18.4" height="5.6"/><text x="682.5" y="371">KIT</text></g>
<g id="n-il6"><rect class="G" x="651.7" y="375.7" width="18.3" height="6"/><text x="660.8" y="380.2">IL-6</text></g>
<g id="n-cmyc3"><rect class="G" x="673.3" y="375.7" width="18.4" height="6"/><text x="682.5" y="380.2">c-Myc</text></g>
<g id="n-mcsfr2"><rect class="g" x="700" y="366.7" width="18.3" height="5.6"/><text x="709.1" y="371">MCSFR</text></g>
<g id="n-tcr"><rect class="W" x="700" y="375.7" width="18.3" height="6"/><text x="709.1" y="380.2">TCR</text></g>
<g id="n-ar1"><rect class="G" x="225" y="57.3" width="19.3" height="6.7"/><text x="234.6" y="62.2">AR</text></g>
<g id="n-hsp"><rect class="g" x="225" y="64" width="19.3" height="6.7"/><text x="234.6" y="68.9">HSP</text></g>
<g id="n-ar2"><rect class="G" x="225" y="85" width="19.3" height="6.7"/><text x="234.6" y="89.9">AR</text></g>
<g id="n-ar3"><rect class="G" x="225" y="91.7" width="19.3" height="7"/><text x="234.6" y="96.7">AR</text></g>
<g id="n-shh"><rect class="g" x="291" y="10" width="19" height="6.7"/><text x="300.5" y="14.9">SHH</text></g>
<g id="n-ptch1a"><rect class="g" x="292.3" y="29.3" width="18.7" height="6"/><text x="301.6" y="33.8">PTCH1</text></g>
<g id="n-smo"><rect class="g" x="324" y="29.3" width="19.3" height="6"/><text x="333.6" y="33.8">SMO</text></g>
<g id="n-cos2"><rect class="g" x="326" y="62.7" width="19" height="6"/><text x="335.5" y="67.2">Cos2</text></g>
<g id="n-fu"><rect class="g" x="316" y="68.7" width="19" height="6.3"/><text x="325.5" y="73.3">Fu</text></g>
<g id="n-sufu"><rect class="g" x="335" y="68.7" width="19" height="6.3"/><text x="344.5" y="73.3">Su(fu)</text></g>
<g id="n-gli"><rect class="g" x="325" y="83.3" width="19" height="6"/><text x="334.5" y="87.8">GLI</text></g>
<g id="n-bmp"><rect class="G" x="304.3" y="125" width="19" height="6.7"/><text x="313.8" y="129.9">BMP</text></g>
<g id="n-gli1"><rect class="g" x="326" y="125" width="19" height="6.7"/><text x="335.5" y="129.9">GLI1</text></g>
<g id="n-wnt2"><rect class="G" x="347.7" y="125" width="19" height="6.7"/><text x="357.2" y="129.9">Wnt</text></g>
<g id="n-hhip"><rect class="g" x="304.3" y="135" width="19" height="6.7"/><text x="313.8" y="139.9">HHIP</text></g>
<g id="n-ptch1b"><rect class="g" x="326" y="135" width="19" height="6.7"/><text x="335.5" y="139.9">PTCH1</text></g>
<g id="n-psa"><rect class="g" x="316.7" y="159.3" width="23.3" height="6.7"/><text x="328.3" y="164.2">PSA</text></g>
<g id="n-tcflef"><rect class="G" x="294" y="174" width="18.7" height="7"/><text x="303.3" y="179">TCF/LEF</text></g>
<g id="n-surv"><rect class="R" x="321.7" y="190" width="18.3" height="6.7"/><text x="330.8" y="194.9">Survivin</text></g>
<g id="n-cmyc4"><rect class="G" x="322.3" y="201.7" width="18.4" height="6.6"/><text x="331.5" y="206.5">c-Myc</text></g>
<g id="n-ccnd1d"><rect class="g" x="322.3" y="208.3" width="18.4" height="6.7"/><text x="331.5" y="213.1" class="sm">CyclinD1</text></g>
<g id="n-cox2"><rect class="G" x="316" y="220.7" width="18.3" height="6"/><text x="325.1" y="225.2">COX-2</text></g>
<g id="n-inos"><rect class="g" x="316" y="226.7" width="18.3" height="6.6"/><text x="325.1" y="231.5">iNOS</text></g>
<g id="n-ciap"><rect class="g" x="336.7" y="239.3" width="18.3" height="5.7"/><text x="345.8" y="243.6">cIAPs</text></g>
<g id="n-traf"><rect class="G" x="336.7" y="247.3" width="18.3" height="6.7"/><text x="345.8" y="252.2">TRAFs</text></g>
<g id="n-bclxl3"><rect class="g" x="316" y="247.7" width="18.3" height="6.3"/><text x="325.1" y="252.3">Bcl-XL</text></g>
<g id="n-bcl2a"><rect class="g" x="296" y="255" width="18.3" height="6"/><text x="305.1" y="259.5">Bcl-2</text></g>
<g id="n-ccnd1e"><rect class="g" x="316.7" y="257.3" width="18.3" height="6.7"/><text x="325.8" y="262.1" class="sm">CyclinD1</text></g>
<g id="n-p53a"><rect class="g" x="320" y="305.3" width="19" height="6.4"/><text x="329.5" y="310">p53</text></g>
<g id="n-fh"><rect class="g" x="371" y="60" width="18.3" height="6"/><text x="380.1" y="64.5">FH</text></g>
<g id="n-egln"><rect class="g" x="409" y="52.3" width="18.7" height="6"/><text x="418.3" y="56.8">EGLN</text></g>
<g id="n-elob"><rect class="g" x="431.7" y="46.7" width="19" height="5.6"/><text x="441.2" y="50.9" class="sm">ElonginB</text></g>
<g id="n-eloc"><rect class="g" x="431.7" y="52.3" width="19" height="6"/><text x="441.2" y="56.7" class="sm">ElonginC</text></g>
<g id="n-cul2"><rect class="g" x="450.7" y="52.3" width="18.3" height="6"/><text x="459.8" y="56.8">CUL2</text></g>
<g id="n-vhl"><rect class="g" x="431.7" y="58.3" width="19" height="6.7"/><text x="441.2" y="63.2">VHL</text></g>
<g id="n-rbx1"><rect class="g" x="450.7" y="58.3" width="18.3" height="6.7"/><text x="459.8" y="63.2">Rbx1</text></g>
<g id="n-hifa"><rect class="g" x="418.3" y="88.3" width="18.4" height="6.7"/><text x="427.5" y="93.2">HIF-α</text></g>
<g id="n-hifb"><rect class="g" x="400" y="108.3" width="18.3" height="6"/><text x="409.1" y="112.8">HIF-β</text></g>
<g id="n-p300"><rect class="g" x="437.7" y="116.7" width="19" height="6"/><text x="447.2" y="121.1" class="sm">p300/CBP</text></g>
<g id="n-glut1"><rect class="g" x="396.7" y="143.3" width="18.3" height="6"/><text x="405.8" y="147.8">Glut1</text></g>
<g id="n-vegf3"><rect class="g" x="418.3" y="143.3" width="18.4" height="6"/><text x="427.5" y="147.8">VEGF</text></g>
<g id="n-tgfa2"><rect class="g" x="441.7" y="143.3" width="18.3" height="6"/><text x="450.8" y="147.8">TGFα</text></g>
<g id="n-pdgfb"><rect class="W" x="418.3" y="151.7" width="18.4" height="5.6"/><text x="427.5" y="156">PDGFβ</text></g>
<g id="n-tgfb1"><rect class="g" x="418.3" y="161.7" width="18.4" height="6"/><text x="427.5" y="166.2">TGFβ</text></g>
<g id="n-casp9c"><rect class="g" x="458.3" y="76.7" width="19" height="6"/><text x="467.8" y="81.2">CASP9</text></g>
<g id="n-cytc"><rect class="g" x="490" y="76.7" width="19" height="6"/><text x="499.5" y="81.2">Cyt C</text></g>
<g id="n-bcl2b"><rect class="g" x="490" y="92.7" width="19" height="6.6"/><text x="499.5" y="97.5">Bcl-2</text></g>
<g id="n-bid"><rect class="g" x="566.7" y="76.7" width="18.3" height="6"/><text x="575.8" y="81.2">Bid</text></g>
<g id="n-casp8"><rect class="g" x="566.7" y="60.7" width="18.3" height="6"/><text x="575.8" y="65.2">CASP8</text></g>
<g id="n-fadd"><rect class="g" x="566.7" y="45.7" width="18.3" height="6"/><text x="575.8" y="50.2">FADD</text></g>
<g id="n-fas"><rect class="g" x="566.7" y="31" width="18.3" height="5.7"/><text x="575.8" y="35.3">Fas</text></g>
<g id="n-fasl"><rect class="g" x="566.7" y="9.3" width="18.3" height="6"/><text x="575.8" y="13.8">FasL</text></g>
<g id="n-brca2"><rect class="g" x="512.7" y="126.7" width="18" height="6.6"/><text x="521.7" y="131.5">BRCA2</text></g>
<g id="n-rad51"><rect class="g" x="512.7" y="133.3" width="18" height="6"/><text x="521.7" y="137.8">Rad51</text></g>
<g id="n-mlh1"><rect class="g" x="601.7" y="126.7" width="18.3" height="6"/><text x="610.8" y="131.2">MLH1</text></g>
<g id="n-msh2"><rect class="G" x="601.7" y="135" width="18.3" height="6"/><text x="610.8" y="139.5">MSH2</text></g>
<g id="n-bax"><rect class="g" x="549" y="169.3" width="18.7" height="6.4"/><text x="558.3" y="174">Bax</text></g>
<g id="n-msh6"><rect class="g" x="570" y="169.3" width="19" height="6.4"/><text x="579.5" y="174">MSH6</text></g>
<g id="n-msh3"><rect class="g" x="571.7" y="175.7" width="17.3" height="6"/><text x="580.3" y="180.2">MSH3</text></g>
<g id="n-tgfbr2b"><rect class="g" x="593.3" y="169.3" width="18.4" height="6.4"/><text x="602.5" y="174">TGFBR2</text></g>
<g id="n-tgfb2"><rect class="g" x="636" y="10" width="18.3" height="6"/><text x="645.1" y="14.5">TGFβ</text></g>
<g id="n-tgfbr1"><rect class="g" x="636" y="28.3" width="18.3" height="5.7"/><text x="645.1" y="32.6">TGFBR1</text></g>
<g id="n-tgfbr2"><rect class="g" x="636" y="34" width="18.3" height="6"/><text x="645.1" y="38.5">TGFBR2</text></g>
<g id="n-smad23"><rect class="g" x="636" y="53.3" width="18.3" height="6.7"/><text x="645.1" y="58.2">Smad2/3</text></g>
<g id="n-smad4"><rect class="g" x="664" y="53.3" width="18.7" height="6.7"/><text x="673.3" y="58.2">Smad4</text></g>
<g id="n-gstp1"><rect class="W" x="708.3" y="72.7" width="19.4" height="6.6"/><text x="718" y="77.5">GSTP1</text></g>
<g id="n-evi1"><rect class="g" x="658.3" y="113.3" width="19" height="6"/><text x="667.8" y="117.8">EVI1</text></g>
<g id="n-amlevi"><rect class="g" x="658.3" y="121.7" width="19" height="6"/><text x="667.8" y="126" class="sm">AML1-EVI1</text></g>
<g id="n-ctbp"><rect class="g" x="663.3" y="140" width="19.4" height="6"/><text x="673" y="144.5">CtBP</text></g>
<g id="n-hdac"><rect class="g" x="663.3" y="146" width="19.4" height="6.3"/><text x="673" y="150.6">HDAC</text></g>
<g id="n-mitf"><rect class="g" x="600" y="215" width="19.3" height="5.7"/><text x="609.6" y="219.3">MITF</text></g>
<g id="n-mdm2b"><rect class="g" x="581.7" y="231.7" width="18.3" height="6.6"/><text x="590.8" y="236.5">MDM2</text></g>
<g id="n-p14"><rect class="R" x="612.7" y="232.3" width="19" height="6"/><text x="622.2" y="236.8">p14ARF</text></g>
<g id="n-p53b"><rect class="g" x="556.7" y="218.3" width="18.3" height="6"/><text x="565.8" y="222.8">p53</text></g>
<g id="n-p21b"><rect class="g" x="556" y="255.7" width="19" height="6.6"/><text x="565.5" y="260.5">p21</text></g>
<g id="n-p16"><rect class="R" x="520" y="254.3" width="19" height="6.7"/><text x="529.5" y="259.1" class="sm">p16INK4a</text></g>
<g id="n-cdk46"><rect class="g" x="535.7" y="271.7" width="18.3" height="6"/><text x="544.8" y="276.2">CDK4/6</text></g>
<g id="n-ccnd1f"><rect class="g" x="535.7" y="277.7" width="18.3" height="6.6"/><text x="544.8" y="282.4" class="sm">CyclinD1</text></g>
<g id="n-rb"><rect class="g" x="497.3" y="275" width="18.4" height="6"/><text x="506.5" y="279.5">Rb</text></g>
<g id="n-e2f"><rect class="R" x="497.3" y="289.3" width="18.7" height="6.7"/><text x="506.6" y="294.2">E2F</text></g>
<g id="n-cdk2"><rect class="g" x="526" y="295" width="18.3" height="5.7"/><text x="535.1" y="299.3">CDK2</text></g>
<g id="n-ccne"><rect class="G" x="526" y="300.7" width="19" height="6.6"/><text x="535.5" y="305.5">CyclinE</text></g>
<g id="n-p15"><rect class="G" x="572.7" y="276" width="19" height="6.3"/><text x="582.2" y="280.5" class="sm">p15INK4b</text></g>
<g id="n-miz1"><rect class="g" x="623.3" y="276" width="19" height="6.7"/><text x="632.8" y="280.9">Miz1</text></g>
<g id="n-cmyc5"><rect class="G" x="654.3" y="278.3" width="19" height="6"/><text x="663.8" y="282.8">c-Myc</text></g>
<g id="n-max"><rect class="g" x="654.3" y="284.3" width="19" height="7.4"/><text x="663.8" y="289.5">Max</text></g>
<g id="n-p27kip"><rect class="g" x="559.3" y="309.3" width="18.4" height="6.4"/><text x="568.5" y="314">p27Kip1</text></g>
<g id="n-cks1"><rect class="g" x="591.7" y="311.7" width="18.3" height="5.6"/><text x="600.8" y="316">CKS1</text></g>
<g id="n-skp2"><rect class="g" x="572.7" y="327.3" width="18.3" height="6.7"/><text x="581.8" y="332.1">Skp2</text></g>
</g>

<g id="legend">
<line x1="0" y1="537.5" x2="771" y2="537.5" stroke="#cfcfcf" stroke-width="1"/>
<text x="232" y="550" class="s lg" font-weight="bold">Notation</text>
<text x="250" y="557.5" class="s">Objects</text>
<rect class="lr" x="258" y="564" width="16" height="6"/>
<text x="284" y="566.5" class="s">gene product, mostly</text><text x="284" y="571.5" class="s">protein but including RNA</text>
<circle class="c" cx="266" cy="583" r="1.8"/>
<text x="284" y="583" class="s">other molecule, mostly</text><text x="284" y="588" class="s">chemical compound</text>
<rect class="lr" x="252" y="597" width="28" height="10" rx="4"/>
<text x="284" y="603.5" class="s">another map</text>
<text x="357" y="557.5" class="s">Arrows</text>
<path class="e A" d="M360,568L380,568"/><text x="390" y="569.5" class="s">molecular interaction or relation</text>
<path class="d A" d="M360,579L380,579"/><text x="390" y="580.5" class="s">link to another map</text>
<path class="e A" d="M360,590L380,590"/><text x="390" y="591.5" class="s">pointer used in legend</text>
<path class="e A" d="M360,602L380,602M368,605L372,599"/><text x="390" y="603.5" class="s">missing interaction (eg., by mutation)</text>
<text x="250" y="628" class="s">Protein-protein interactions</text>
<g id="lg-ppi">
<rect class="lr" x="255" y="635" width="14" height="6"/><rect class="lr" x="285" y="635" width="14" height="6"/><path class="e A" d="M269,638L285,638"/><text x="277" y="635.5" class="sm">+p</text><text x="320" y="639.5" class="s">phosphorylation</text>
<rect class="lr" x="255" y="645" width="14" height="6"/><rect class="lr" x="285" y="645" width="14" height="6"/><path class="e A" d="M269,648L285,648"/><text x="277" y="645.5" class="sm">-p</text><text x="320" y="649.5" class="s">dephosphorylation</text>
<rect class="lr" x="255" y="654.5" width="14" height="6"/><rect class="lr" x="285" y="654.5" width="14" height="6"/><path class="e A" d="M269,657.5L285,657.5"/><text x="277" y="655" class="sm">+u</text><text x="320" y="659" class="s">ubiquitination</text>
<rect class="lr" x="255" y="664" width="14" height="6"/><rect class="lr" x="285" y="664" width="14" height="6"/><path class="e A" d="M269,667L285,667"/><text x="277" y="664.5" class="sm">+g</text><text x="320" y="668.5" class="s">glycosylation</text>
<rect class="lr" x="255" y="674" width="14" height="6"/><rect class="lr" x="285" y="674" width="14" height="6"/><path class="e A" d="M269,677L285,677"/><text x="277" y="674.5" class="sm">+m</text><text x="320" y="678.5" class="s">methylation</text>
<rect class="lr" x="255" y="684" width="14" height="6"/><rect class="lr" x="285" y="684" width="14" height="6"/><path class="e A" d="M269,687L285,687"/><text x="320" y="688.5" class="s">activation</text>
<rect class="lr" x="255" y="694" width="14" height="6"/><rect class="lr" x="285" y="694" width="14" height="6"/><path class="e T" d="M269,697L285,697"/><text x="320" y="698.5" class="s">inhibition</text>
<rect class="lr" x="255" y="704" width="14" height="6"/><rect class="lr" x="285" y="704" width="14" height="6"/><path class="d A" d="M269,707L285,707"/><text x="320" y="708.5" class="s">indirect effect</text>
<rect class="lr" x="255" y="714" width="14" height="6"/><rect class="lr" x="285" y="714" width="14" height="6"/><path class="d" d="M269,717L285,717"/><text x="320" y="718.5" class="s">state change</text>
<rect class="lr" x="255" y="724.5" width="14" height="6"/><rect class="lr" x="285" y="724.5" width="14" height="6"/><path class="e" d="M269,727.5L285,727.5"/><text x="320" y="729" class="s">binding / association</text>
<rect class="lr" x="255" y="735" width="14" height="6"/><rect class="lr" x="285" y="735" width="14" height="6"/><path class="e" d="M269,738L285,738M277,736V740"/><text x="320" y="739.5" class="s">dissociation</text>
<rect class="lr" x="256" y="746" width="14" height="6"/><rect class="lr" x="270" y="746" width="14" height="6"/><rect class="lr" x="256" y="752" width="14" height="6"/><text x="320" y="754" class="s">complex</text>
</g>
<text x="403" y="628" class="s">Gene expression relations</text>
<g id="lg-gene">
<rect class="lr" x="405" y="637" width="14" height="6"/><rect class="lr" x="436" y="637" width="14" height="6"/><path class="e A" d="M419,640L436,640"/><text x="455" y="641.5" class="s">expression</text>
<rect class="lr" x="405" y="648" width="14" height="6"/><rect class="lr" x="436" y="648" width="14" height="6"/><path class="e T" d="M419,651L436,651"/><text x="455" y="652.5" class="s">repression</text>
<rect class="lr" x="405" y="659" width="14" height="6"/><rect class="lr" x="436" y="659" width="14" height="6"/><path class="d A" d="M419,662L436,662"/><text x="455" y="663.5" class="s">indirect effect</text>
</g>
<text x="403" y="692" class="s">Enzyme-enzyme relations</text>
<rect class="lr" x="405" y="702" width="14" height="6"/><circle class="c" cx="427.5" cy="705" r="1.8"/><rect class="lr" x="436" y="702" width="14" height="6"/>
<path class="e A" d="M419,705L425.5,705"/><path class="e A" d="M429.3,705L436,705"/>
<text x="455" y="704" class="s">two successive</text><text x="455" y="709" class="s">reaction steps</text>
</g>
</svg>
